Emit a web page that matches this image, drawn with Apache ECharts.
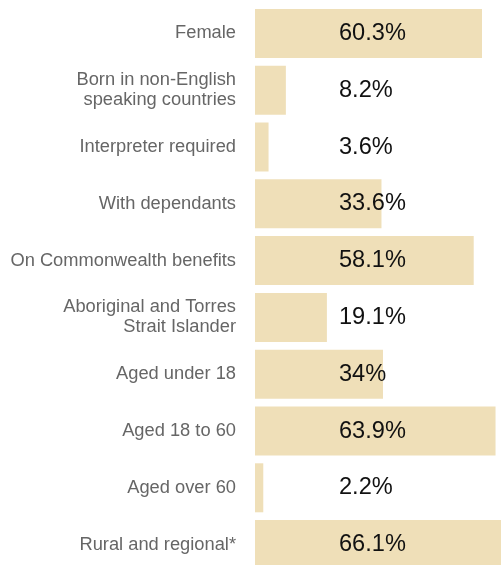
<!DOCTYPE html>
<html><head><meta charset="utf-8">
<script src="https://cdn.jsdelivr.net/npm/echarts@6/dist/echarts.min.js"></script>
<style>html,body{margin:0;padding:0;background:#fff}#c{width:501px;height:565px}</style>
</head><body><div id="c"></div>
<script>
var categories = ["Female","Born in non-English\nspeaking countries","Interpreter required","With dependants","On Commonwealth benefits","Aboriginal and Torres\nStrait Islander","Aged under 18","Aged 18 to 60","Aged over 60","Rural and regional*"];
var values = [60.3, 8.2, 3.6, 33.6, 58.1, 19.1, 34, 63.9, 2.2, 66.1];
var chart = echarts.init(document.getElementById('c'), null, {renderer:'canvas'});
chart.setOption({
  animation:false,
  grid:{left:255, width:246, top:5, height:568, containLabel:false, outerBoundsMode:'none'},
  xAxis:{type:'value', min:0, max:65.35, show:false},
  yAxis:{type:'category', data:categories, inverse:true,
    axisLine:{show:false}, axisTick:{show:false}, splitLine:{show:false},
    axisLabel:{color:'#666', fontSize:18.3, lineHeight:20, fontFamily:'Liberation Sans, Arial, sans-serif', margin:19, align:'right'}},
  series:[{type:'bar', data:values, barWidth:49, itemStyle:{color:'#efdfb8'},
    label:{show:true, position:[84,'50%'], verticalAlign:'middle', align:'left', color:'#111', fontSize:23.6, fontFamily:'Liberation Sans, Arial, sans-serif',
      formatter:function(p){return p.value+'%';}}}]
});
</script></body></html>
